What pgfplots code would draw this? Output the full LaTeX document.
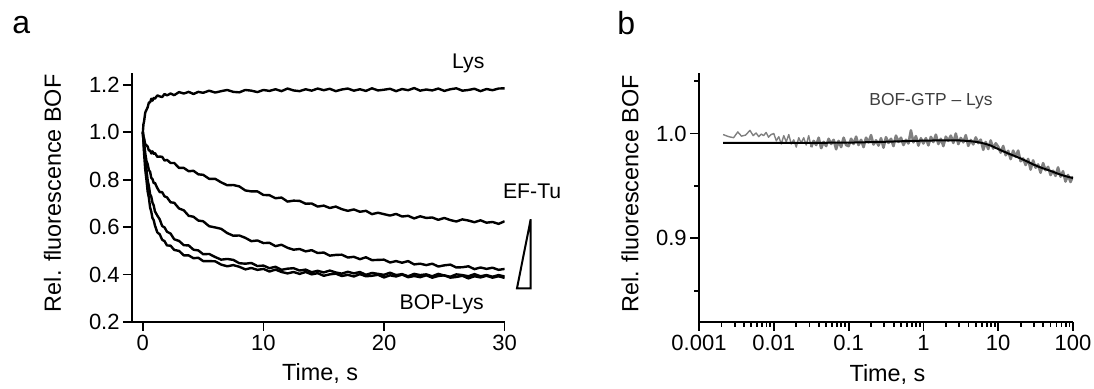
\documentclass[border=0pt]{standalone}
\usepackage{fontspec}
\setmainfont{Liberation Sans}
\usepackage{pgfplots}
\pgfplotsset{compat=1.18}
\usepackage{pgfplotstable}
\pgfplotstableread{
t lys c2 c3 c4 c5
0 1.000 1.000 1.000 1.000 1.000
0.05 1.035 0.980 0.971 0.969 0.961
0.1 1.046 0.976 0.958 0.929 0.912
0.2 1.084 0.949 0.912 0.885 0.842
0.3 1.095 0.946 0.879 0.844 0.799
0.4 1.106 0.940 0.866 0.798 0.750
0.5 1.126 0.923 0.841 0.774 0.724
0.6 1.127 0.924 0.834 0.739 0.683
0.7 1.142 0.911 0.808 0.729 0.665
0.8 1.134 0.920 0.803 0.703 0.638
0.9 1.145 0.910 0.786 0.692 0.630
1.0 1.142 0.913 0.787 0.667 0.608
1.2 1.156 0.897 0.765 0.649 0.578
1.4 1.152 0.898 0.748 0.633 0.570
1.6 1.149 0.897 0.748 0.605 0.547
1.8 1.162 0.881 0.730 0.599 0.541
2.0 1.156 0.884 0.726 0.581 0.523
2.3 1.164 0.871 0.705 0.573 0.522
2.6 1.157 0.871 0.703 0.549 0.504
3.0 1.170 0.850 0.679 0.542 0.500
3.4 1.164 0.850 0.671 0.524 0.481
3.8 1.171 0.836 0.648 0.523 0.481
4.2 1.162 0.838 0.644 0.505 0.469
4.6 1.171 0.823 0.628 0.502 0.471
5.0 1.167 0.821 0.625 0.486 0.457
5.5 1.176 0.804 0.604 0.487 0.457
6.0 1.168 0.804 0.599 0.474 0.456
6.5 1.174 0.789 0.593 0.463 0.442
7.0 1.179 0.777 0.575 0.466 0.435
7.5 1.171 0.778 0.564 0.462 0.440
8.0 1.169 0.772 0.565 0.448 0.433
8.5 1.179 0.755 0.555 0.446 0.422
9.0 1.176 0.751 0.541 0.449 0.428
9.5 1.170 0.751 0.544 0.436 0.420
10.0 1.179 0.736 0.533 0.438 0.424
10.5 1.175 0.735 0.534 0.427 0.413
11.0 1.182 0.722 0.520 0.433 0.421
11.5 1.174 0.725 0.526 0.420 0.411
12.0 1.185 0.708 0.513 0.425 0.405
12.5 1.177 0.712 0.505 0.427 0.411
13.0 1.174 0.711 0.508 0.417 0.403
13.5 1.182 0.699 0.498 0.421 0.411
14.0 1.176 0.700 0.503 0.410 0.401
14.5 1.185 0.687 0.491 0.416 0.406
15.0 1.178 0.691 0.493 0.409 0.395
15.5 1.184 0.681 0.480 0.417 0.401
16.0 1.174 0.687 0.483 0.409 0.404
16.5 1.181 0.676 0.484 0.404 0.394
17.0 1.185 0.669 0.472 0.412 0.399
17.5 1.176 0.675 0.475 0.405 0.392
18.0 1.182 0.665 0.465 0.411 0.402
18.5 1.175 0.669 0.473 0.399 0.393
19.0 1.186 0.655 0.461 0.407 0.395
19.5 1.177 0.661 0.462 0.403 0.399
20.0 1.180 0.655 0.463 0.399 0.388
20.5 1.184 0.649 0.451 0.408 0.397
21.0 1.174 0.656 0.457 0.398 0.392
21.5 1.183 0.645 0.450 0.402 0.400
22.0 1.178 0.648 0.457 0.393 0.389
22.5 1.187 0.637 0.443 0.403 0.394
23.0 1.176 0.646 0.446 0.398 0.389
23.5 1.181 0.639 0.440 0.401 0.397
24.0 1.177 0.641 0.446 0.393 0.387
24.5 1.185 0.631 0.434 0.403 0.394
25.0 1.175 0.639 0.439 0.396 0.397
25.5 1.182 0.630 0.442 0.391 0.387
26.0 1.186 0.624 0.430 0.401 0.390
26.5 1.176 0.633 0.431 0.398 0.395
27.0 1.179 0.628 0.435 0.393 0.384
27.5 1.184 0.621 0.423 0.402 0.393
28.0 1.174 0.629 0.430 0.393 0.388
28.5 1.183 0.619 0.424 0.398 0.395
29.0 1.178 0.622 0.429 0.391 0.387
29.5 1.185 0.614 0.420 0.398 0.393
30.0 1.186 0.625 0.424 0.392 0.386
}\dataA
\pgfplotstableread{
t v
0.0021 0.9990
0.0025 0.9970
0.0029 0.9960
0.0033 1.0015
0.0037 0.9975
0.0042 0.9985
0.0048 1.0030
0.0053 0.9980
0.0058 1.0005
0.0063 0.9970
0.0068 0.9995
0.0073 0.9980
0.0079 1.0010
0.0085 0.9965
0.0092 0.9990
0.01 1.000
0.0108 0.993
0.01166 0.997
0.01259 0.990
0.01359 0.998
0.01468 0.992
0.01585 0.999
0.01711 0.990
0.01848 0.994
0.01995 0.987
0.02154 0.996
0.02326 0.991
0.02512 0.996
0.02712 0.989
0.02929 0.998
0.03162 0.987
0.03415 0.993
0.03687 0.989
0.03981 0.996
0.04299 0.986
0.04642 0.992
0.05012 0.988
0.05412 0.995
0.05843 0.990
0.0631 0.994
0.06813 0.985
0.07356 0.993
0.07943 0.987
0.08577 0.996
0.09261 0.989
0.1 0.988
0.108 0.995
0.1166 0.990
0.1259 0.997
0.1359 0.989
0.1468 0.994
0.1585 0.987
0.1711 0.996
0.1848 0.9915
0.1995 0.9985
0.2154 0.9895
0.2326 0.9935
0.2512 0.9885
0.2712 0.9955
0.2929 0.9865
0.3162 0.9965
0.3415 0.991
0.3687 0.995
0.3981 0.988
0.4299 0.998
0.4642 0.992
0.5012 0.996
0.5412 0.989
0.5843 0.994
0.631 0.9905
0.6813 1.003
0.7356 0.9915
0.7943 0.9975
0.8577 0.9885
0.9261 0.9955
1 0.9905
1.08 0.9956
1.166 0.9887
1.259 0.9968
1.359 0.9919
1.468 0.9989
1.585 0.990
1.711 0.995
1.848 0.988
1.995 0.997
2.154 0.993
2.326 0.998
2.512 0.991
2.712 1.000
2.929 0.9899
3.162 0.9958
3.415 0.9916
3.687 0.9984
3.981 0.9882
4.299 0.9939
4.642 0.9896
5.012 0.9963
5.412 0.9908
5.843 0.9942
6.31 0.9845
6.813 0.9919
7.356 0.9852
7.943 0.9934
8.577 0.9856
9.261 0.9907
10 0.9875
10.8 0.9818
11.66 0.9881
12.59 0.9793
13.59 0.9835
14.68 0.9756
15.85 0.9837
17.11 0.9778
18.48 0.9837
19.95 0.9736
21.54 0.9762
23.26 0.9700
25.12 0.9758
27.12 0.9656
29.29 0.9744
31.62 0.9674
34.15 0.9705
36.87 0.9626
39.81 0.9718
42.99 0.9650
46.42 0.9682
50.12 0.9604
54.12 0.9645
58.43 0.9596
63.1 0.9677
68.13 0.9588
73.56 0.9640
79.43 0.9542
85.77 0.9605
92.61 0.9538
100 0.9592
}\grayB
\pgfplotstableread{
t v
0.0021 0.9910
0.01 0.9910
0.03 0.9911
0.1 0.9913
0.2 0.9918
0.3 0.9921
0.5 0.9926
0.7 0.9929
1 0.9932
1.5 0.9934
2 0.9935
3 0.9934
4 0.9929
5 0.9921
6 0.9911
7 0.9898
8 0.9884
10 0.9852
12 0.9826
15 0.9798
20 0.9762
25 0.9730
30 0.9702
40 0.9667
50 0.9644
60 0.9622
70 0.9605
85 0.9588
100 0.9575
}\fitB
\begin{document}
\begin{tikzpicture}
\path[use as bounding box] (0pt,0pt) rectangle (547pt,194.5pt);
\pgfplotsset{
  myax/.style={
    scale only axis,
    axis x line*=bottom, axis y line*=left,
    axis line style={line width=0.9pt},
    tick style={line width=0.9pt, black},
    tick align=outside,
    major tick length=4.5pt, minor tick length=2.5pt,
    /pgf/number format/assume math mode=true,
    tick label style={font=\fontsize{11}{13}\selectfont},
    xticklabel style={inner sep=2pt},
    yticklabel style={inner sep=1.5pt},
    label style={font=\fontsize{11.7}{14}\selectfont},
  }
}
\begin{axis}[myax, at={(66pt,33.5pt)}, anchor=south west,
  width=186.3pt, height=124.5pt,
  xmin=-0.9, xmax=30, ymin=0.2, ymax=1.2506,
  xtick={0,10,20,30}, ytick={0.2,0.4,0.6,0.8,1.0,1.2},
  yticklabel style={/pgf/number format/.cd, fixed, fixed zerofill, precision=1},
  xlabel={Time, s}, ylabel={Rel. fluorescence BOF},
  xlabel style={at={(axis description cs:0.505,-0.233)}, anchor=base},
  ylabel style={at={(axis description cs:-0.191,0.517)}, anchor=base},
]
\addplot[black, line width=1.2pt, line join=round] table[x=t, y=lys] {\dataA};
\addplot[black, line width=1.2pt, line join=round] table[x=t, y=c2] {\dataA};
\addplot[black, line width=1.2pt, line join=round] table[x=t, y=c3] {\dataA};
\addplot[black, line width=1.2pt, line join=round] table[x=t, y=c4] {\dataA};
\addplot[black, line width=1.2pt, line join=round] table[x=t, y=c5] {\dataA};
\end{axis}
\begin{axis}[myax, xmode=log, at={(349.5pt,33.5pt)}, anchor=south west,
  width=187pt, height=124.5pt,
  xmin=0.001, xmax=100, ymin=0.8203, ymax=1.0577,
  xtick={0.001,0.01,0.1,1,10,100},
  xticklabels={0.001,0.01,0.1,1,10,100},
  minor xtick={0.002,0.003,0.004,0.005,0.006,0.007,0.008,0.009,
    0.02,0.03,0.04,0.05,0.06,0.07,0.08,0.09,
    0.2,0.3,0.4,0.5,0.6,0.7,0.8,0.9,
    2,3,4,5,6,7,8,9,20,30,40,50,60,70,80,90},
  ytick={0.9,1.0}, minor ytick={0.85,0.95,1.05},
  yticklabel style={/pgf/number format/.cd, fixed, fixed zerofill, precision=1},
  xlabel={Time, s}, ylabel={Rel. fluorescence BOF},
  xlabel style={at={(axis description cs:0.504,-0.24)}, anchor=base},
  ylabel style={at={(axis description cs:-0.162,0.515)}, anchor=base},
]
\addplot[black!50, line width=0.7pt, line join=round] table[x=t, y=v, skip coords between index={31}{1000}] {\grayB};
\addplot[black!50, line width=1.3pt, line join=round] table[x=t, y=v, skip coords between index={0}{30}] {\grayB};
\addplot[black, line width=1pt] table[x=t, y=v] {\fitB};
\end{axis}
\node[anchor=base west, inner sep=0pt, font=\fontsize{16}{18}\selectfont] at (6pt,177.5pt) {a};
\node[anchor=base west, inner sep=0pt, font=\fontsize{16}{18}\selectfont] at (308.5pt,177pt) {b};
\node[anchor=base west, inner sep=0pt, font=\fontsize{10.6}{12}\selectfont] at (225.9pt,160.35pt) {Lys};
\node[anchor=base west, inner sep=0pt, font=\fontsize{10.6}{12}\selectfont] at (251.35pt,95.35pt) {EF-Tu};
\node[anchor=base west, inner sep=0pt, font=\fontsize{10.6}{12}\selectfont] at (199.65pt,39.5pt) {BOP-Lys};
\draw[line width=1pt, line join=miter] (258.5pt,50.35pt) -- (265.35pt,84.85pt) -- (265.35pt,50.35pt) -- cycle;
\node[anchor=base, inner sep=0pt, text=black!75, font=\fontsize{8.7}{10}\selectfont] at (465.5pt,141.5pt) {BOF-GTP \textendash{} Lys};
\end{tikzpicture}
\end{document}
